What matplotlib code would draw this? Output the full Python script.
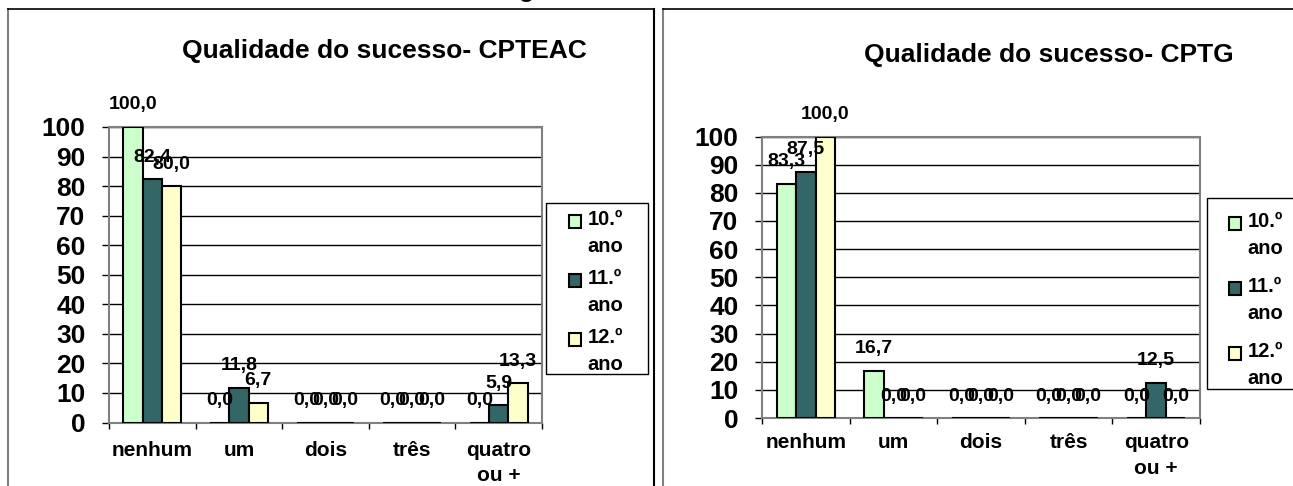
import matplotlib
matplotlib.use("Agg")
import matplotlib.pyplot as plt
import numpy as np
from matplotlib.patches import Rectangle
from matplotlib.legend_handler import HandlerPatch
from matplotlib.lines import Line2D

plt.rcParams["font.family"] = ["Liberation Sans", "DejaVu Sans"]

categories = ["nenhum", "um", "dois", "três", "quatro\nou +"]
series_names = ["10.º\nano", "11.º\nano", "12.º\nano"]
colors = ["#CCFFCC", "#336666", "#FFFFCC"]

# CPTEAC (%)
cpteac_10 = [100.0, 0.0, 0.0, 0.0, 0.0]
cpteac_11 = [82.4, 11.8, 0.0, 0.0, 5.9]
cpteac_12 = [80.0, 6.7, 0.0, 0.0, 13.3]

# CPTG (%)
cptg_10 = [83.3, 16.7, 0.0, 0.0, 0.0]
cptg_11 = [87.5, 0.0, 0.0, 0.0, 12.5]
cptg_12 = [100.0, 0.0, 0.0, 0.0, 0.0]

W, H = 1293, 486
fig = plt.figure(figsize=(W / 100, H / 100), dpi=100)


def fig_rect(x0, y0, x1, y1):
    """pixel box (origin top-left) -> figure fraction [l, b, w, h]"""
    return [x0 / W, 1 - y1 / H, (x1 - x0) / W, (y1 - y0) / H]


def fig_line(xs, ys, color, lw):
    fig.add_artist(Line2D([x / W for x in xs], [1 - y / H for y in ys],
                          transform=fig.transFigure, color=color, lw=lw))


def top_square(legend, orig_handle, xdescent, ydescent, width, height, fontsize):
    # put the swatch next to the first line of the two-line label
    return Rectangle((-xdescent, -ydescent + 0.58 * fontsize), width, height)


def draw_panel(box, series, title, title_xy, leg_xy, leg_frame, leg_spacing, xpad):
    ax = fig.add_axes(fig_rect(*box))
    x = np.arange(len(categories))
    bw = 0.222
    bars = []
    for i, (vals, c) in enumerate(zip(series, colors)):
        bars.append(ax.bar(x + (i - 1) * bw, vals, bw, color=c,
                           edgecolor="black", linewidth=1.5, zorder=3))
    for cont, vals in zip(bars, series):
        for r, v in zip(cont, vals):
            ax.annotate(f"{v:.1f}".replace(".", ","),
                        (r.get_x() + r.get_width() / 2, v),
                        xytext=(0, 22), textcoords="offset pixels",
                        ha="center", va="center", fontsize=14,
                        fontweight="bold", zorder=6, annotation_clip=False)

    ax.set_xlim(-0.5, 4.5)
    ax.set_ylim(0, 100)
    ax.set_yticks(range(0, 101, 10))
    ax.set_xticks(x, categories)
    ax.set_xticks(np.arange(-0.5, 5, 1), minor=True)
    ax.set_axisbelow(True)
    ax.yaxis.grid(True, color="black", lw=1)
    for s in ax.spines.values():
        s.set_color("#808080")
        s.set_linewidth(1.5)
    ax.tick_params(axis="y", length=5, width=1, color="black", pad=12,
                   labelsize=19)
    ax.tick_params(axis="x", which="major", length=0, pad=xpad, labelsize=15)
    ax.tick_params(axis="x", which="minor", length=4.5, width=1, color="black")
    for lbl in ax.get_yticklabels() + ax.get_xticklabels():
        lbl.set_fontweight("bold")
    for lbl in ax.get_xticklabels():
        lbl.set_linespacing(1.46)

    fig.text(title_xy[0] / W, 1 - title_xy[1] / H, title, ha="center",
             va="center", fontsize=19, fontweight="bold")

    leg = ax.legend([b.patches[0] for b in bars], series_names,
                    loc="upper left",
                    bbox_to_anchor=(leg_xy[0] / W, 1 - leg_xy[1] / H),
                    bbox_transform=fig.transFigure, frameon=False,
                    borderpad=0, borderaxespad=0, handlelength=0.62,
                    handleheight=0.62, handletextpad=0.3,
                    labelspacing=leg_spacing,
                    prop=dict(size=14.5, weight="bold"),
                    handler_map={Rectangle: HandlerPatch(patch_func=top_square)})
    for t in leg.get_texts():
        t.set_linespacing(1.55)
    fx0, fy0, fx1, fy1 = leg_frame
    fig.add_artist(Rectangle((fx0 / W, 1 - fy1 / H), (fx1 - fx0) / W,
                             (fy1 - fy0) / H, transform=fig.transFigure,
                             fill=False, edgecolor="black", lw=1))
    return ax


draw_panel((109, 127, 542, 422.5), [cpteac_10, cpteac_11, cpteac_12],
           "Qualidade do sucesso- CPTEAC", (384, 51),
           (569, 210), (546, 203, 648, 374), 0.63, 13)
draw_panel((762, 136.5, 1200, 418), [cptg_10, cptg_11, cptg_12],
           "Qualidade do sucesso- CPTG", (1049, 55),
           (1229, 212), (1207, 198, 1310, 389), 0.93, 11)

# page frames around the two charts
fig_line([8, 8], [9.5, 490], "#808080", 1.5)
fig_line([8, 654], [9.5, 9.5], "black", 1.2)
fig_line([654, 654], [9.5, 490], "black", 1.5)
fig_line([663, 663], [9.5, 490], "#808080", 1.5)
fig_line([663, 1300], [9.5, 9.5], "black", 1.2)

# heading cut off at the top of the page
fig.text(527 / W, 1 + 3 / H, "g", ha="center", va="baseline",
         fontsize=18, fontweight="bold")

fig.savefig("out.png", dpi=100)
